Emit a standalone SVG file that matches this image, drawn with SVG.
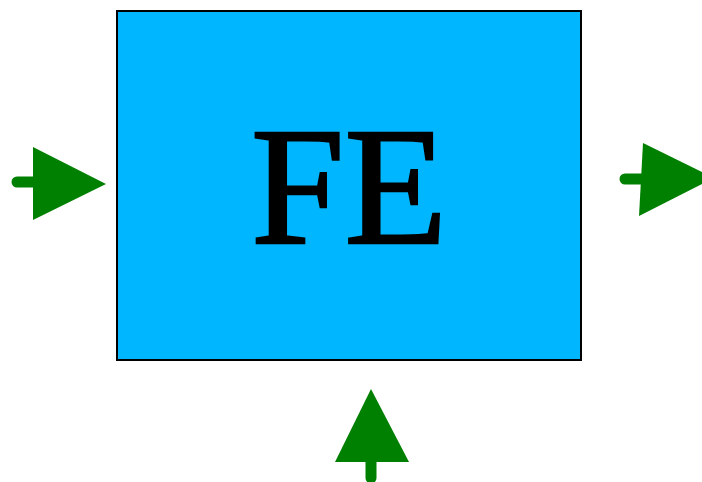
<svg xmlns="http://www.w3.org/2000/svg" width="702" height="482" viewBox="0 0 702 482">
<style>
.stem{stroke:#008000;stroke-width:11;stroke-linecap:round;fill:none}
.head{fill:#008000}
.box{fill:#00b6ff;stroke:#000;stroke-width:2}
.lbl{font-family:"Liberation Serif","DejaVu Serif",serif;font-size:168px;fill:#000;stroke:#000;stroke-width:2.5}
</style>
<rect width="702" height="482" fill="#fff"/>
<g id="fe">
<rect class="box" x="117" y="11" width="464" height="349"/>
<text class="lbl" x="349" y="243" text-anchor="middle">FE</text>
</g>
<g id="connectors">
<g id="in-left">
<line class="stem" x1="17" y1="182" x2="40" y2="182"/>
<polygon class="head" points="33,147 33,220 106,184"/>
</g>
<g id="out-right">
<line class="stem" x1="625" y1="179" x2="645" y2="179"/>
<polygon class="head" points="643,143 639,216 714,178"/>
</g>
<g id="in-bottom">
<line class="stem" x1="371" y1="478" x2="371" y2="455"/>
<polygon class="head" points="371,389 335,462 409,462"/>
</g>
</g>
</svg>
